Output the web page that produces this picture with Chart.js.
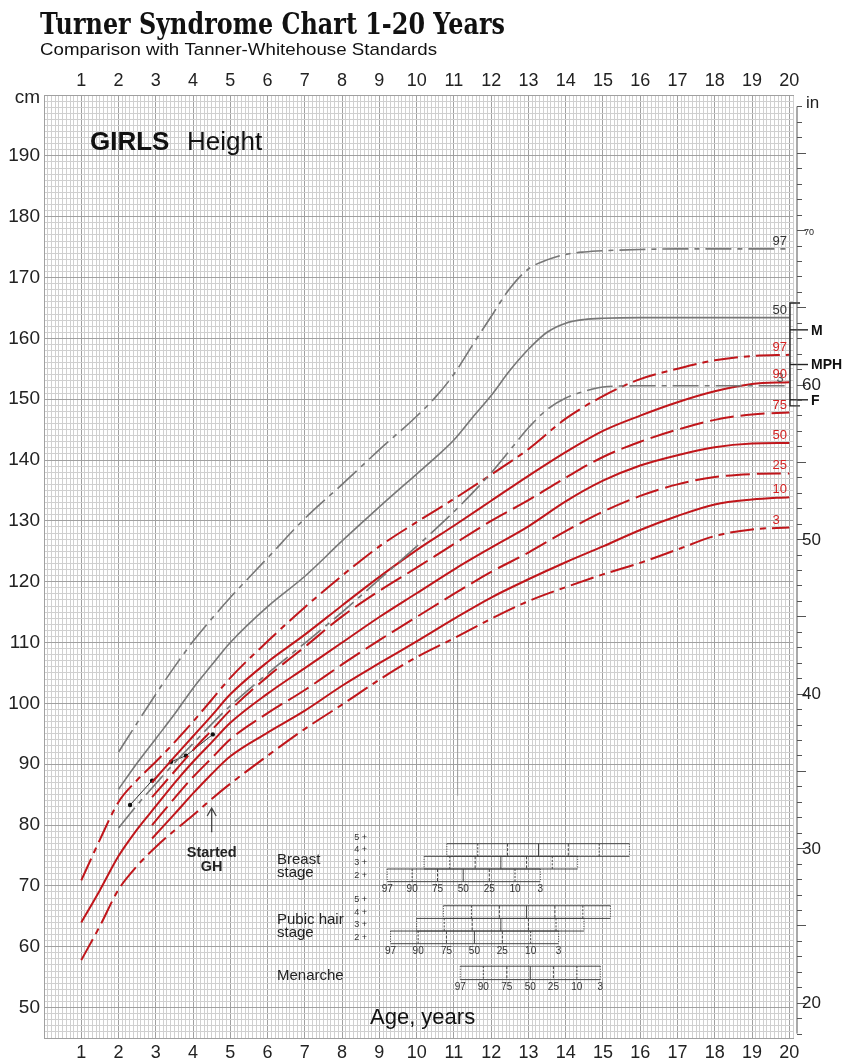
<!DOCTYPE html>
<html>
<head>
<meta charset="utf-8">
<script src="https://cdn.jsdelivr.net/npm/chart.js@4.4.1/dist/chart.umd.min.js"></script>
<style>
  html, body { margin: 0; padding: 0; background: #fff; }
  #wrap { position: relative; width: 857px; height: 1060px; }
</style>
</head>
<body>
<div id="wrap"><canvas id="chart" width="857" height="1060"></canvas></div>
<script>
// Turner syndrome percentiles (red), height in cm
const agesEarly = [1, 1.5, 2, 2.5, 3, 3.5, 4, 4.5, 5, 6, 7, 8, 9, 10, 11, 12, 13, 14, 15, 16, 17, 18, 19, 20];
const agesLate  = [2.9, 3.5, 4, 4.5, 5, 6, 7, 8, 9, 10, 11, 12, 13, 14, 15, 16, 17, 18, 19, 20];

const turner97 = [70.9, 77.6, 83.8, 87.4, 90.4, 93.6, 97.0, 100.6, 104.2, 110.2, 115.8, 121.0, 125.8, 129.8, 133.6, 137.6, 141.8, 146.8, 150.5, 153.3, 155.0, 156.4, 157.1, 157.3];
const turner90 = [87.0, 91.2, 94.6, 98.0, 101.5, 106.8, 111.3, 116.1, 120.8, 125.2, 129.2, 133.3, 137.4, 141.3, 144.8, 147.3, 149.5, 151.3, 152.5, 152.8];
const turner75 = [84.6, 88.8, 92.3, 95.6, 98.9, 104.4, 109.3, 114.3, 118.5, 122.3, 126.2, 130.0, 133.4, 137.1, 140.5, 143.0, 145.0, 146.6, 147.5, 147.8];
const turner50 = [64.0, 69.3, 74.9, 79.3, 83.1, 86.9, 90.4, 93.6, 96.8, 101.6, 105.8, 110.0, 114.2, 118.1, 122.0, 125.6, 129.1, 133.2, 136.6, 139.1, 140.8, 142.1, 142.7, 142.8];
const turner25 = [80.0, 84.4, 87.9, 91.0, 94.1, 98.4, 102.2, 106.4, 110.4, 114.2, 118.0, 121.6, 124.8, 128.3, 131.5, 134.1, 136.0, 137.2, 137.7, 137.8];
const turner10 = [77.8, 81.8, 85.2, 88.4, 91.3, 95.2, 98.8, 102.9, 106.6, 110.2, 113.9, 117.4, 120.4, 123.2, 125.8, 128.5, 130.8, 132.7, 133.5, 133.9];
const turner3  = [57.8, 63.4, 69.4, 73.3, 76.4, 79.1, 81.6, 84.3, 86.8, 91.4, 95.8, 99.8, 103.9, 107.6, 110.7, 113.9, 116.8, 119.1, 121.2, 123.1, 125.3, 127.5, 128.6, 128.9];

// Tanner-Whitehouse standards (grey)
const twAges = [2, 2.5, 3, 3.5, 4, 4.5, 5, 6, 7, 8, 9, 10, 10.5, 11, 11.5, 12, 12.5, 13, 13.5, 14, 14.5, 15, 16, 17, 18, 19, 20];
const tw97 = [92.0, 96.8, 101.5, 106.0, 110.2, 113.9, 117.4, 123.9, 130.4, 136.0, 141.7, 147.2, 150.3, 154.1, 158.9, 163.6, 168.2, 171.4, 172.9, 173.8, 174.2, 174.4, 174.6, 174.7, 174.7, 174.7, 174.7];
const tw50 = [85.9, 90.2, 94.2, 98.2, 102.5, 106.3, 110.0, 115.9, 120.9, 126.7, 132.3, 137.7, 140.4, 143.3, 147.0, 150.6, 154.7, 158.2, 161.0, 162.5, 163.1, 163.3, 163.4, 163.4, 163.4, 163.4, 163.4];
const tw3  = [79.5, 83.3, 86.8, 90.2, 93.4, 96.6, 99.6, 104.9, 109.9, 115.0, 120.4, 125.8, 128.6, 131.5, 134.6, 137.9, 141.6, 145.3, 148.3, 150.2, 151.3, 152.0, 152.2, 152.2, 152.2, 152.2, 152.2];

// patient measurements
const patientAge    = [2.31, 2.90, 3.41, 3.81, 4.53];
const patientHeight = [83.3, 87.3, 90.4, 91.4, 94.9];
const markerAge = [11.1, 11.1];
const markerHeight = [84.8, 110.3];

// parents / mid-parental height
const parentLabels  = ['M', 'MPH', 'F'];
const parentHeights = [161.4, 155.7, 149.9];
const targetRange   = [148.9, 165.8];

// pubertal stages: age at 97,90,75,50,25,10,3 centiles
const centileLabels = ['97', '90', '75', '50', '25', '10', '3'];
const breastAges = [
  [9.21, 9.88, 10.56, 11.25, 11.95, 12.64, 13.32],
  [10.20, 10.89, 11.57, 12.26, 12.95, 13.64, 14.32],
  [10.81, 11.64, 12.44, 13.27, 14.07, 14.90, 15.71]
];
const pubicAges = [
  [9.30, 10.04, 10.80, 11.55, 12.30, 13.06, 13.81],
  [10.00, 10.74, 11.49, 12.26, 13.00, 13.74, 14.49],
  [10.72, 11.47, 12.22, 12.95, 13.71, 14.46, 15.20]
];
const menarcheAges = [11.17, 11.79, 12.42, 13.05, 13.67, 14.30, 14.93];
const stageLabels = ['2 +', '3 +', '4 +', '5 +'];

const inchLabels = [20, 30, 40, 50, 60];

const RED = '#c0161b', RED_TXT = '#d42222', GREY = '#777';
const DASHDOT_R = [24, 6, 6, 6], DASH_R = [24, 7], DASHDOT_G = [26, 6, 5, 6];

const toXY = (xs, ys) => xs.map((a, i) => ({ x: a, y: ys[i] }));
const nearInt = v => Math.abs(v - Math.round(v)) < 1e-6;

function line(data, color, width, dash) {
  return { data, borderColor: color, borderWidth: width, borderDash: dash || [],
           pointRadius: 0, cubicInterpolationMode: 'monotone', fill: false };
}

const datasets = [
  line(toXY(twAges, tw97), GREY, 1.6, DASHDOT_G),
  line(toXY(twAges, tw50), GREY, 1.6),
  line(toXY(twAges, tw3), GREY, 1.6, DASHDOT_G),
  line(toXY(agesEarly, turner97), RED, 2, DASHDOT_R),
  line(toXY(agesLate, turner90), RED, 2),
  line(toXY(agesLate, turner75), RED, 2, DASH_R),
  line(toXY(agesEarly, turner50), RED, 2),
  line(toXY(agesLate, turner25), RED, 2, DASH_R),
  line(toXY(agesLate, turner10), RED, 2),
  line(toXY(agesEarly, turner3), RED, 2, DASHDOT_R),
  line(toXY(markerAge, markerHeight), '#9a9a9a', 1),
  { data: toXY(patientAge, patientHeight), borderColor: '#333', borderWidth: 1,
    pointRadius: 2.2, pointBackgroundColor: '#111', pointBorderWidth: 0, tension: 0 }
];

const curveLabels = [
  { text: '97', v: tw97[tw97.length - 1], c: '#333' },
  { text: '50', v: tw50[tw50.length - 1], c: '#333' },
  { text: '3',  v: tw3[tw3.length - 1],  c: '#555', dx: 4 },
  { text: '97', v: turner97[23], c: RED_TXT },
  { text: '90', v: turner90[19], c: RED_TXT },
  { text: '75', v: turner75[19], c: RED_TXT },
  { text: '50', v: turner50[23], c: RED_TXT },
  { text: '25', v: turner25[19], c: RED_TXT },
  { text: '10', v: turner10[19], c: RED_TXT },
  { text: '3',  v: turner3[23],  c: RED_TXT }
];

const dividerDash = [[1, 1.5], [2, 1.5], [3, 1.5], [], [3, 1.5], [2, 1.5], [1, 1.5]];

function drawBox(ctx, x, y, ages, baseCm, hCm) {
  const yb = y.getPixelForValue(baseCm), yt = y.getPixelForValue(baseCm + hCm);
  const xs = ages.map(a => x.getPixelForValue(a));
  ctx.setLineDash([]);
  ctx.beginPath();
  ctx.moveTo(xs[0], yt); ctx.lineTo(xs[6], yt);
  ctx.moveTo(xs[0], yb); ctx.lineTo(xs[6], yb);
  ctx.stroke();
  xs.forEach((px, i) => {
    ctx.setLineDash(dividerDash[i]);
    ctx.beginPath(); ctx.moveTo(px, yt); ctx.lineTo(px, yb); ctx.stroke();
  });
  ctx.setLineDash([]);
  return { xs, yb, yt };
}

function drawStageGroup(ctx, x, y, rows, baseCm, hCm, withStages) {
  let first;
  rows.forEach((ages, i) => {
    const r = drawBox(ctx, x, y, ages, baseCm + i * hCm, hCm);
    if (i === 0) first = r;
  });
  ctx.fillStyle = '#333';
  ctx.font = '10px "Liberation Sans"';
  ctx.textAlign = 'center'; ctx.textBaseline = 'alphabetic';
  first.xs.forEach((px, i) => ctx.fillText(centileLabels[i], px, first.yb + 10.5));
  if (withStages) {
    ctx.font = '9px "Liberation Sans"';
    ctx.textAlign = 'right'; ctx.textBaseline = 'middle';
    stageLabels.forEach((s, i) => {
      const cy = y.getPixelForValue(baseCm + (i + 0.5) * hCm);
      ctx.fillText(s, 367, cy);
    });
  }
}

const overlay = {
  id: 'overlay',
  afterDraw(chart) {
    const { ctx, chartArea: a, scales: { x, y } } = chart;
    ctx.save();

    // title + subtitle
    const title = 'Turner Syndrome Chart 1-20 Years';
    ctx.fillStyle = '#111';
    ctx.textAlign = 'left'; ctx.textBaseline = 'alphabetic';
    ctx.font = 'bold 29px "DejaVu Serif"';
    let w = ctx.measureText(title).width;
    ctx.save(); ctx.translate(40, 34); ctx.scale(465 / w, 1); ctx.fillText(title, 0, 0); ctx.restore();
    const sub = 'Comparison with Tanner-Whitehouse Standards';
    ctx.font = '17px "Liberation Sans"';
    w = ctx.measureText(sub).width;
    ctx.save(); ctx.translate(40, 54.5); ctx.scale(397 / w, 1); ctx.fillText(sub, 0, 0); ctx.restore();

    // cm label
    ctx.font = '19px "Liberation Sans"'; ctx.textAlign = 'right'; ctx.fillStyle = '#222';
    ctx.fillText('cm', 40, 103);

    // GIRLS Height
    ctx.textAlign = 'left'; ctx.fillStyle = '#111';
    ctx.font = 'bold 26px "Liberation Sans"';
    ctx.fillText('GIRLS', 90, 150);
    ctx.font = '26px "Liberation Sans"';
    ctx.fillText('Height', 187, 150);

    // Age, years
    ctx.font = '22px "Liberation Sans"';
    ctx.fillText('Age, years', 370, 1024);

    // curve end labels
    ctx.font = '13px "Liberation Sans"';
    ctx.textBaseline = 'alphabetic';
    const lx = x.getPixelForValue(19.55);
    curveLabels.forEach(l => {
      ctx.fillStyle = l.c;
      ctx.fillText(l.text, lx + (l.dx || 0), y.getPixelForValue(l.v) - 4);
    });

    // Started GH arrow
    const gx = x.getPixelForValue(4.5);
    const ya = y.getPixelForValue(78.8), yh = y.getPixelForValue(82.8);
    ctx.strokeStyle = '#444'; ctx.lineWidth = 1.3;
    ctx.beginPath();
    ctx.moveTo(gx, ya); ctx.lineTo(gx, yh);
    ctx.moveTo(gx - 4.5, yh + 8); ctx.lineTo(gx, yh); ctx.lineTo(gx + 4.5, yh + 8);
    ctx.stroke();
    ctx.fillStyle = '#222';
    ctx.font = 'bold 14.5px "Liberation Sans"'; ctx.textAlign = 'center';
    ctx.fillText('Started', gx, 857);
    ctx.fillText('GH', gx, 871);

    // pubertal stage boxes
    ctx.textAlign = 'left';
    ctx.font = '15px "Liberation Sans"'; ctx.fillStyle = '#222';
    ctx.fillText('Breast', 277, 864);
    ctx.fillText('stage', 277, 877);
    ctx.fillText('Pubic hair', 277, 924);
    ctx.fillText('stage', 277, 937);
    ctx.fillText('Menarche', 277, 980);
    ctx.strokeStyle = '#444'; ctx.lineWidth = 1;
    drawStageGroup(ctx, x, y, breastAges, 70.7, 2.08, true);
    drawStageGroup(ctx, x, y, pubicAges, 60.5, 2.08, true);
    drawStageGroup(ctx, x, y, [menarcheAges], 54.6, 2.2, false);

    // parental target bracket
    const bx = a.right - 3;
    const yTop = y.getPixelForValue(targetRange[1]), yBot = y.getPixelForValue(targetRange[0]);
    ctx.strokeStyle = '#222'; ctx.lineWidth = 1.4;
    ctx.beginPath();
    ctx.moveTo(bx + 10, yTop); ctx.lineTo(bx, yTop); ctx.lineTo(bx, yBot); ctx.lineTo(bx + 10, yBot);
    ctx.stroke();
    ctx.font = 'bold 14px "Liberation Sans"'; ctx.fillStyle = '#111';
    ctx.textAlign = 'left'; ctx.textBaseline = 'middle';
    parentHeights.forEach((h, i) => {
      const py = y.getPixelForValue(h);
      ctx.beginPath(); ctx.moveTo(bx, py); ctx.lineTo(bx + 18, py); ctx.stroke();
      ctx.fillText(parentLabels[i], bx + 21, py + 1);
    });

    // inch axis on the right
    const ax = a.right + 4;
    ctx.strokeStyle = '#555'; ctx.lineWidth = 1;
    ctx.beginPath();
    ctx.moveTo(ax, y.getPixelForValue(78 * 2.54)); ctx.lineTo(ax, y.getPixelForValue(18 * 2.54));
    for (let i = 18; i <= 78; i++) {
      const py = Math.round(y.getPixelForValue(i * 2.54)) + 0.5;
      ctx.moveTo(ax, py); ctx.lineTo(ax + (i % 5 === 0 ? 9 : 5), py);
    }
    ctx.stroke();
    ctx.fillStyle = '#222'; ctx.font = '17px "Liberation Sans"';
    inchLabels.forEach(v => ctx.fillText(String(v), ax + 5, y.getPixelForValue(v * 2.54) + 1));
    ctx.font = '9px "Liberation Sans"';
    ctx.fillText('70', ax + 7, y.getPixelForValue(70 * 2.54) + 2);
    ctx.font = '17px "Liberation Sans"'; ctx.textBaseline = 'alphabetic';
    ctx.fillText('in', ax + 9, 108);

    ctx.restore();
  }
};

const gridCol = (ctx, major) => major ? '#a0a0a0' : '#d0d0d0';

new Chart(document.getElementById('chart'), {
  type: 'line',
  data: { datasets },
  options: {
    responsive: false, animation: false, devicePixelRatio: 1,
    layout: { padding: { left: 0, right: 64, top: 0, bottom: 0 } },
    plugins: { legend: { display: false }, tooltip: { enabled: false } },
    scales: {
      x: {
        type: 'linear', position: 'top', min: 0, max: 20.1,
        afterFit: s => { s.height = 95; },
        ticks: {
          stepSize: 0.1, autoSkip: false, maxRotation: 0, minRotation: 0, padding: 3,
          color: '#222', font: { family: 'Liberation Sans', size: 18 },
          callback: v => (nearInt(v) && v >= 0.5 && v <= 20.05) ? String(Math.round(v)) : ''
        },
        grid: {
          drawTicks: false,
          color: c => gridCol(c, c.tick ? nearInt(c.tick.value) : true)
        },
        border: { color: '#a0a0a0' }
      },
      x2: {
        type: 'linear', position: 'bottom', min: 0, max: 20.1,
        afterFit: s => { s.height = 22; },
        ticks: {
          stepSize: 0.1, autoSkip: false, maxRotation: 0, minRotation: 0, padding: 4,
          color: '#222', font: { family: 'Liberation Sans', size: 18 },
          callback: v => (nearInt(v) && v >= 0.5 && v <= 20.05) ? String(Math.round(v)) : ''
        },
        grid: { display: false, drawTicks: false },
        border: { display: true, color: '#a0a0a0' }
      },
      y: {
        type: 'linear', position: 'left', min: 45, max: 200,
        afterFit: s => { s.width = 44; },
        ticks: {
          stepSize: 1, autoSkip: false, padding: 4,
          color: '#222', font: { family: 'Liberation Sans', size: 19 },
          callback: v => (v % 10 === 0 && v >= 50 && v <= 190) ? String(v) : ''
        },
        grid: {
          drawTicks: false,
          color: c => gridCol(c, c.tick ? c.tick.value % 10 === 0 : true)
        },
        border: { color: '#a0a0a0' }
      }
    }
  },
  plugins: [overlay]
});
</script>
</body>
</html>
